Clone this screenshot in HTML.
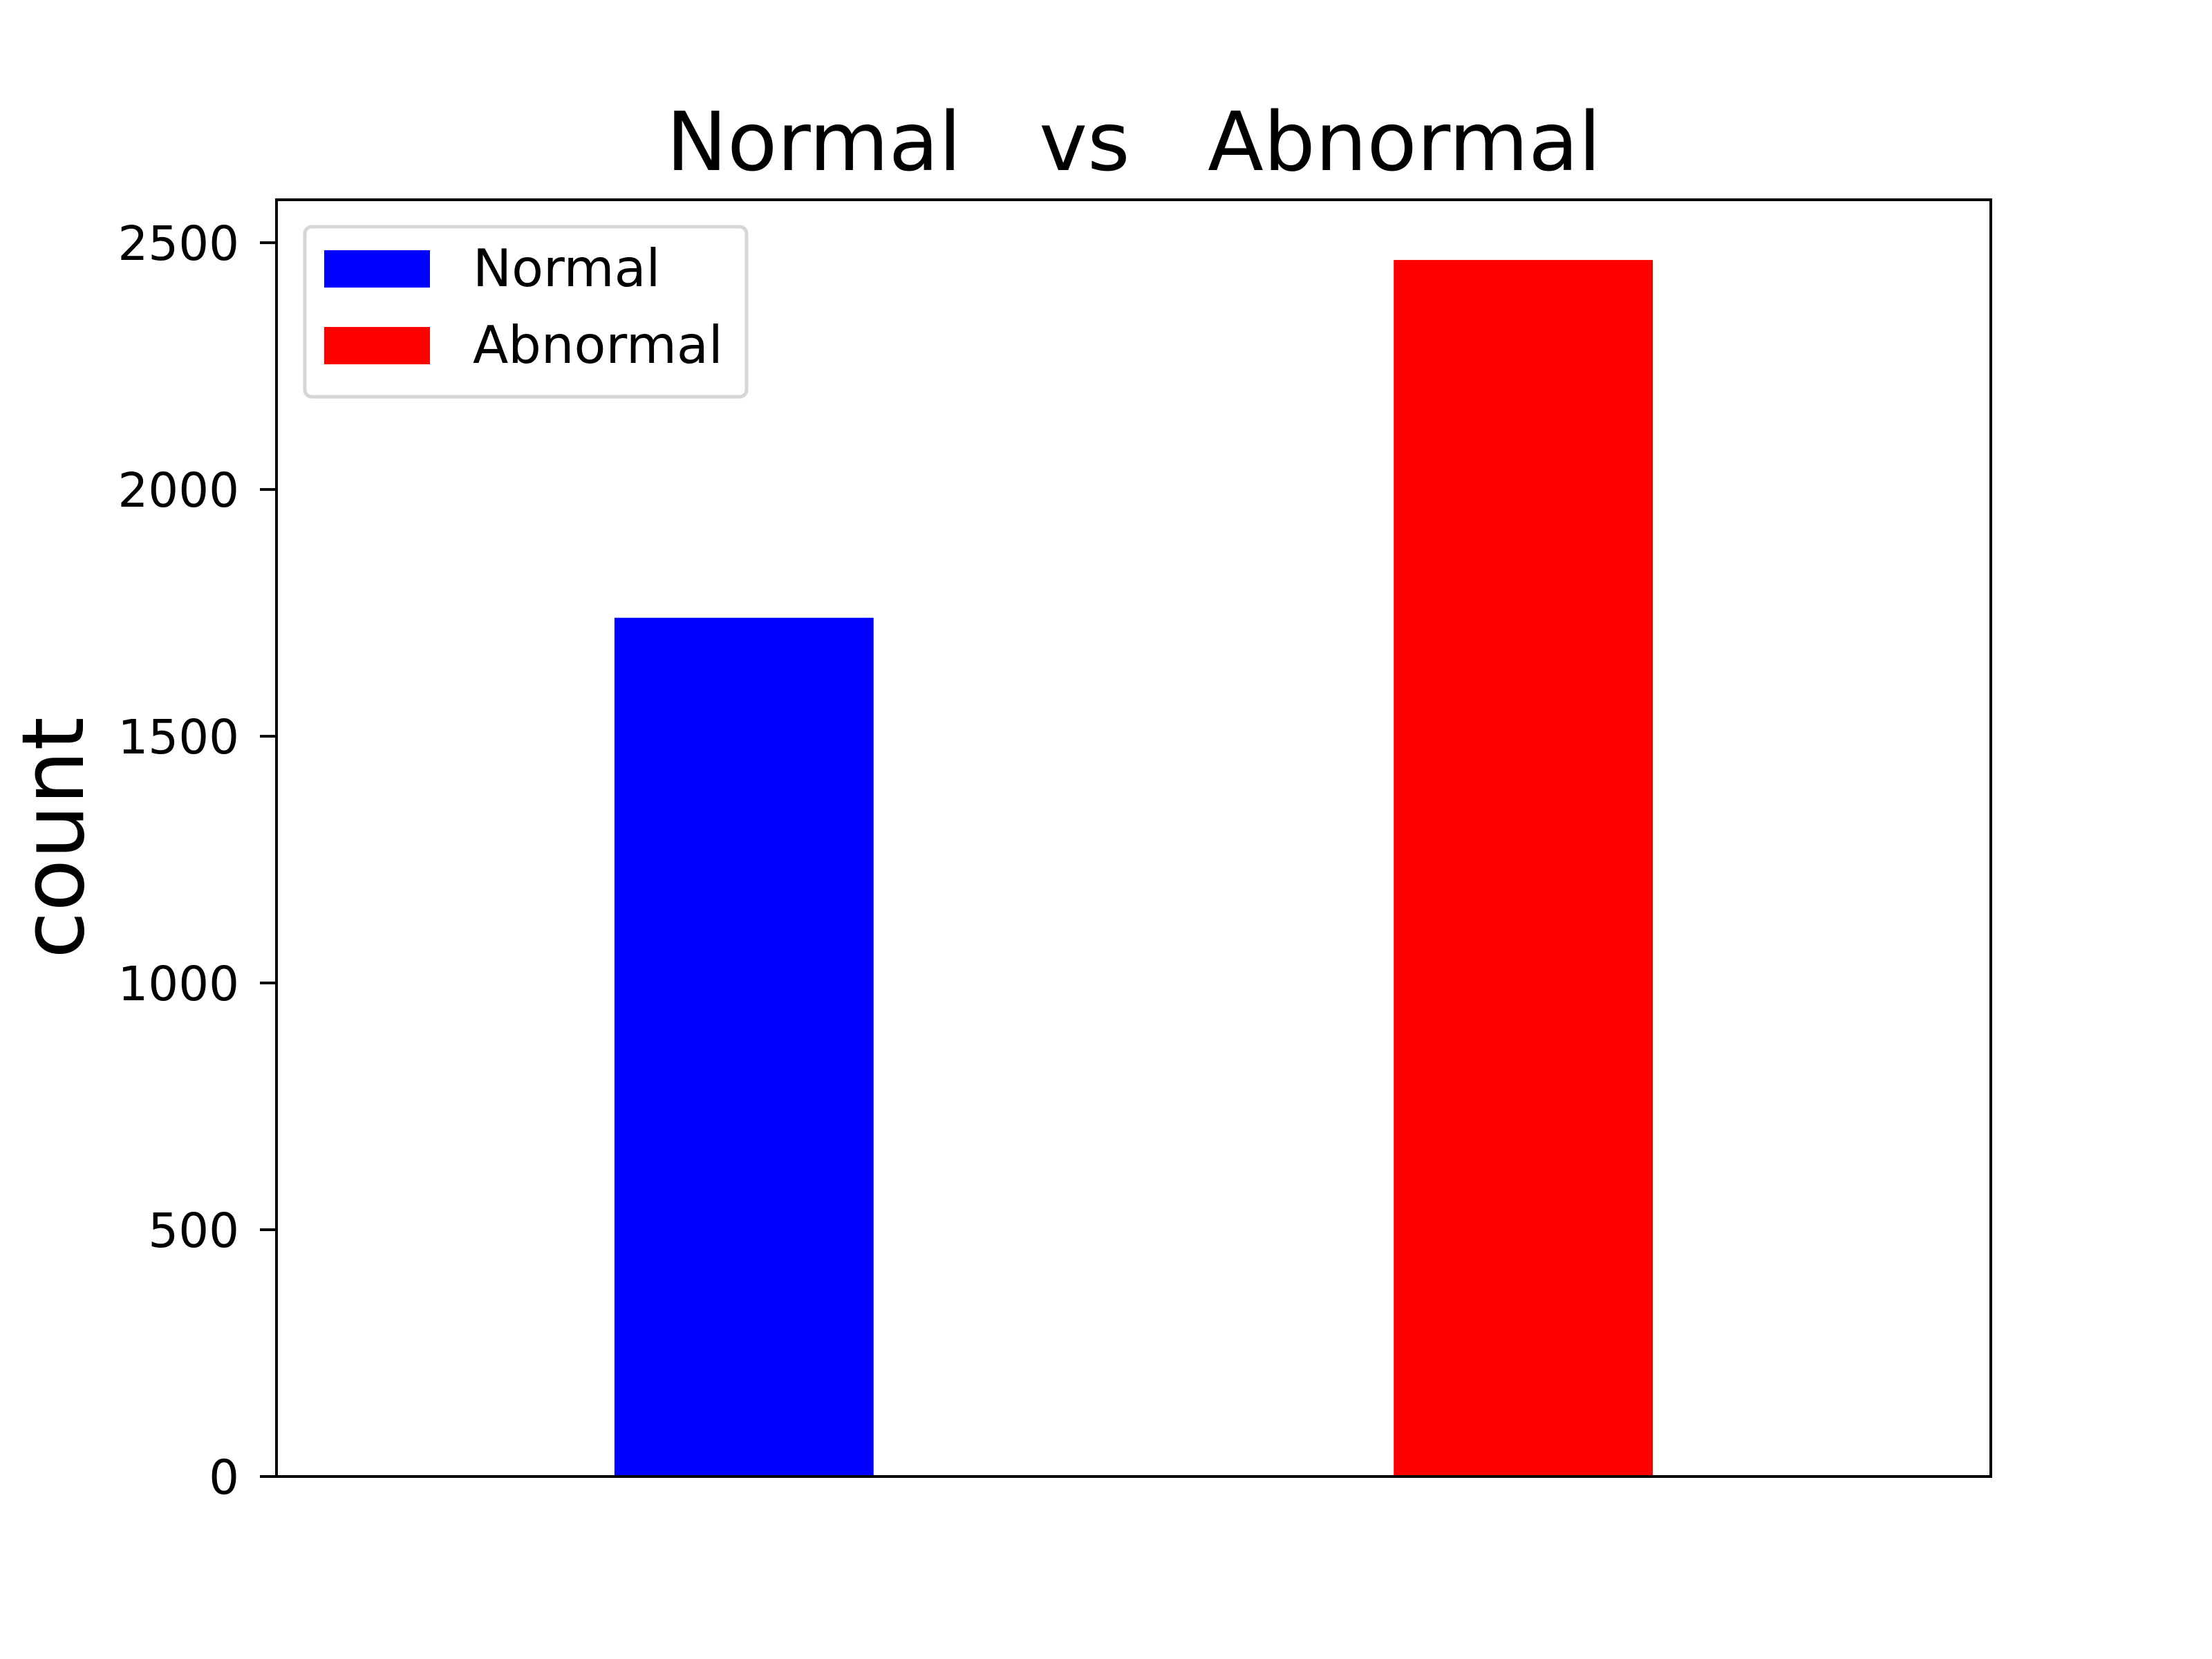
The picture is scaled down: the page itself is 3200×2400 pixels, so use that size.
<!DOCTYPE html>
<html><head><meta charset="utf-8"><style>
html,body{margin:0;padding:0;background:#fff}
svg{display:block}
text{font-family:"DejaVu Sans","Liberation Sans",sans-serif;fill:#000}
</style></head><body>
<svg id="chart" width="3200" height="2400" viewBox="0 0 3200 2400" xmlns="http://www.w3.org/2000/svg">
<rect width="3200" height="2400" fill="#fff"/>
<text x="1640" y="246" font-size="118" text-anchor="middle" xml:space="preserve" style="white-space:pre">Normal   vs   Abnormal</text>
<text transform="translate(120,1212) rotate(-90)" font-size="124" text-anchor="middle">count</text>
<g id="bars"></g>
<g id="yticks"></g>
<rect x="400" y="289" width="2480" height="1847" fill="none" stroke="#000" stroke-width="4"/>
<g>
<rect x="441" y="328" width="639" height="246" rx="10" fill="#fff" fill-opacity="0.8" stroke="#d6d6d6" stroke-width="5"/>
<g id="legend-items"></g>
</g>
</svg>
<script>
const categories = ["Normal", "Abnormal"];
const counts = [1740, 2465];
const colors = ["#0000ff", "#ff0000"];
const yTicks = [0, 500, 1000, 1500, 2000, 2500];
const yTickLabels = ["0", "500", "1000", "1500", "2000", "2500"];

const NS = "http://www.w3.org/2000/svg";
const plot = {left: 400, right: 2880, top: 289, bottom: 2136};
const yMax = 2587, xMin = -0.6, xMax = 1.6, barW = 0.3325;
function yScale(v){ return plot.bottom - v / yMax * (plot.bottom - plot.top); }
function xScale(v){ return plot.left + (v - xMin) / (xMax - xMin) * (plot.right - plot.left); }

const barsG = document.getElementById("bars");
categories.forEach((c, i) => {
  const r = document.createElementNS(NS, "rect");
  const x0 = xScale(i - barW / 2), x1 = xScale(i + barW / 2);
  r.setAttribute("x", x0);
  r.setAttribute("width", x1 - x0);
  r.setAttribute("y", yScale(counts[i]));
  r.setAttribute("height", yScale(0) - yScale(counts[i]));
  r.setAttribute("fill", colors[i]);
  
  
  barsG.appendChild(r);
});

const tg = document.getElementById("yticks");
yTicks.forEach((t, i) => {
  const y = yScale(t);
  const l = document.createElementNS(NS, "line");
  l.setAttribute("x1", plot.left - 24); l.setAttribute("x2", plot.left);
  l.setAttribute("y1", y); l.setAttribute("y2", y);
  l.setAttribute("stroke", "#000"); l.setAttribute("stroke-width", "4");
  
  
  tg.appendChild(l);
  const tx = document.createElementNS(NS, "text");
  tx.setAttribute("x", 346); tx.setAttribute("y", y + 25);
  tx.setAttribute("font-size", "69"); tx.setAttribute("text-anchor", "end");
  tx.textContent = yTickLabels[i];
  
  
  tg.appendChild(tx);
});

const lg = document.getElementById("legend-items");
categories.forEach((c, i) => {
  const y = 362 + i * 111;
  const p = document.createElementNS(NS, "rect");
  p.setAttribute("x", 469); p.setAttribute("y", y);
  p.setAttribute("width", 153); p.setAttribute("height", 54);
  p.setAttribute("fill", colors[i]);
  
  
  lg.appendChild(p);
  const t = document.createElementNS(NS, "text");
  t.setAttribute("x", 684); t.setAttribute("y", y + 52);
  t.setAttribute("font-size", "75");
  t.textContent = c;
  
  
  lg.appendChild(t);
});
</script>
</body></html>
